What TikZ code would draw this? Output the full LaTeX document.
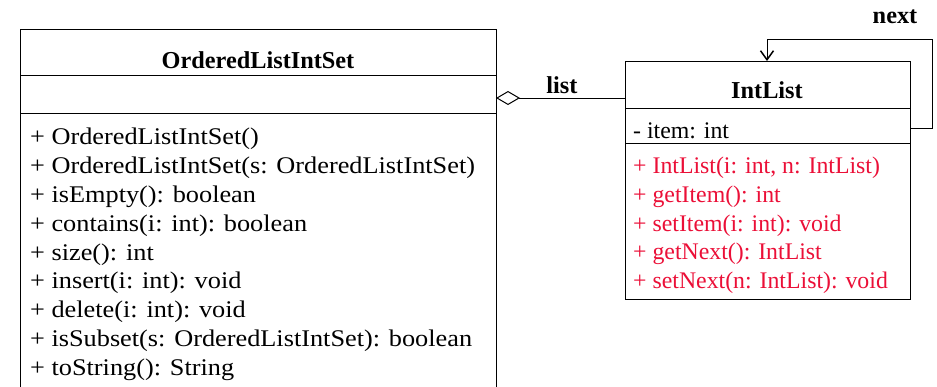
\documentclass[tikz,border=0pt]{standalone}
\usepackage{fontspec}
\setmainfont{Liberation Serif}
\newfontfamily\palfont[FakeStretch=1.1]{Liberation Serif}
\usetikzlibrary{arrows.meta}
\definecolor{opred}{RGB}{235,15,55}
\tikzset{
  box/.style={draw, line width=1pt, inner sep=0pt, rectangle},
  sep/.style={line width=1pt},
  lbl/.style={anchor=base west, inner sep=0pt, font=\palfont\fontsize{23.9}{26}\selectfont},
  rlbl/.style={anchor=base west, inner sep=0pt, font=\fontsize{23.8}{26}\selectfont},
  head/.style={anchor=base, inner sep=0pt, font=\bfseries\fontsize{24.3}{26}\selectfont},
  conn/.style={line width=1pt},
}
\begin{document}
\begin{tikzpicture}[x=1pt,y=-1pt]
\useasboundingbox (0,0) rectangle (937,386);
% left class box (open at bottom)
\node[box, minimum width=476pt, minimum height=380pt, anchor=north west] (ols) at (20,29) {};
\draw[sep] (20,75) -- (496,75);
\draw[sep] (20,113) -- (496,113);
\node[head] (olsname) at (258,68) {OrderedListIntSet};
\node[lbl] (m1) at (30,144) {+ OrderedListIntSet()};
\node[lbl] (m2) at (30,173) {+ OrderedListIntSet(s: OrderedListIntSet)};
\node[lbl] (m3) at (30,202) {+ isEmpty(): boolean};
\node[lbl] (m4) at (30,231) {+ contains(i: int): boolean};
\node[lbl] (m5) at (30,260) {+ size(): int};
\node[lbl] (m6) at (30,288) {+ insert(i: int): void};
\node[lbl] (m7) at (30,317) {+ delete(i: int): void};
\node[lbl] (m8) at (30,346) {+ isSubset(s: OrderedListIntSet): boolean};
\node[lbl] (m9) at (30,375) {+ toString(): String};
% right class box
\node[box, minimum width=285pt, minimum height=238pt, anchor=north west] (il) at (625,61) {};
\draw[sep] (625,108) -- (910,108);
\draw[sep] (625,143) -- (910,143);
\node[head] (ilname) at (767,98) {IntList};
\node[rlbl] (a1) at (633,138) {- item: int};
\begin{scope}[every node/.append style={text=opred}]
\node[rlbl] (r1) at (633,173) {+ IntList(i: int, n: IntList)};
\node[rlbl] (r2) at (633,202) {+ getItem(): int};
\node[rlbl] (r3) at (633,231) {+ setItem(i: int): void};
\node[rlbl] (r4) at (633,259) {+ getNext(): IntList};
\node[rlbl] (r5) at (633,288) {+ setNext(n: IntList): void};
\end{scope}
% aggregation
\coordinate (agg) at (496,98);
\draw[conn, {Diamond[open, length=24pt, width=14pt, line width=1pt]}-] (agg) -- (agg -| il.west);
\node[head] (listlbl) at (562,93) {list};
% self association
\coordinate (selfout) at (910,128);
\coordinate (selfin) at (767,61);
\draw[conn, -{Straight Barb[length=9pt, width=13pt, line width=1.5pt]}] (selfout) -- (932,128) -- (932,39) -- (767,39) -- (selfin);
\node[head] (nextlbl) at (895,23) {next};
\end{tikzpicture}
\end{document}
